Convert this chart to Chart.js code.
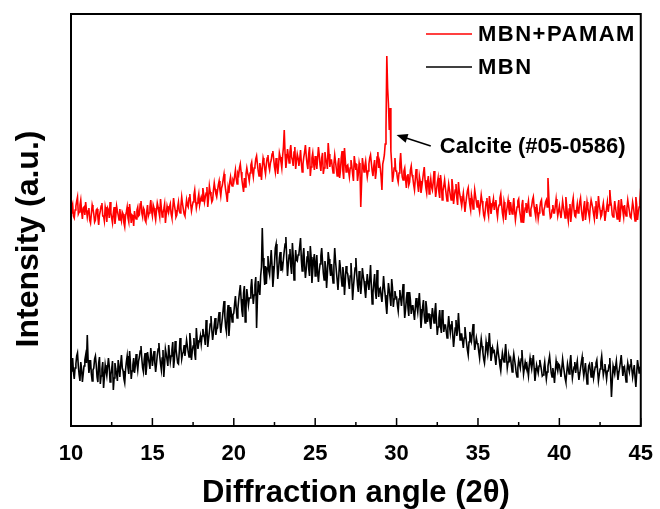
<!DOCTYPE html>
<html>
<head>
<meta charset="utf-8">
<script src="https://cdn.jsdelivr.net/npm/chart.js@4.4.1/dist/chart.umd.min.js"></script>
<style>
  body { margin: 0; background: #fff; }
  #wrap { width: 660px; height: 509px; }
</style>
</head>
<body>
<div id="wrap"><canvas id="xrd" width="660" height="509"></canvas></div>
<script>
// sampling of the scan: 10.00 to 45.00 deg, one point every 0.05 deg
const angleStart = 10;
const angleStep = 0.05;

const seriesNames = ['MBN+PAMAM', 'MBN'];
const seriesColors = ['#ff0000', '#000000'];
const xTicks = [10, 15, 20, 25, 30, 35, 40, 45];

// intensities (a.u.), one row per degree
const mbnPamam = [
  213, 219, 222, 210, 208, 216, 220, 225, 229, 212, 214, 221, 226, 215, 207, 218, 219, 211, 224, 216,
  209, 215, 218, 206, 203, 212, 221, 217, 212, 204, 206, 216, 217, 209, 201, 211, 215, 220, 223, 210,
  210, 205, 219, 214, 204, 218, 216, 208, 224, 213, 208, 203, 213, 219, 202, 210, 220, 215, 211, 206,
  217, 209, 205, 214, 212, 203, 199, 210, 214, 219, 208, 204, 222, 213, 203, 211, 210, 200, 215, 209,
  207, 216, 219, 210, 211, 222, 225, 213, 209, 218, 216, 206, 204, 214, 221, 210, 213, 219, 226, 215,
  210, 221, 218, 211, 206, 215, 223, 219, 214, 209, 227, 218, 209, 213, 217, 222, 203, 212, 220, 216,
  214, 219, 222, 212, 208, 217, 228, 221, 216, 209, 211, 219, 224, 215, 213, 220, 229, 222, 217, 212,
  210, 218, 226, 221, 219, 228, 232, 222, 215, 220, 224, 231, 236, 226, 218, 223, 227, 232, 221, 226,
  229, 225, 238, 232, 224, 229, 233, 239, 219, 228, 240, 234, 230, 224, 226, 236, 243, 237, 232, 229,
  235, 241, 245, 236, 230, 238, 241, 247, 252, 243, 236, 231, 224, 238, 233, 244, 249, 242, 240, 246,
  244, 250, 256, 247, 242, 253, 251, 258, 262, 254, 246, 240, 234, 248, 239, 252, 258, 253, 250, 245,
  253, 261, 264, 255, 249, 258, 260, 267, 270, 262, 255, 250, 263, 257, 246, 259, 268, 264, 257, 252,
  262, 268, 271, 260, 256, 263, 266, 272, 275, 267, 259, 254, 268, 262, 252, 261, 273, 269, 264, 258,
  270, 279, 296, 272, 258, 266, 277, 270, 263, 274, 281, 269, 266, 260, 274, 279, 257, 265, 272, 268,
  260, 267, 276, 263, 254, 262, 269, 274, 281, 270, 262, 257, 272, 279, 250, 259, 268, 273, 263, 256,
  270, 264, 257, 268, 279, 271, 261, 255, 268, 273, 252, 258, 274, 267, 264, 257, 283, 272, 259, 266,
  266, 259, 253, 262, 271, 264, 257, 250, 262, 268, 248, 255, 268, 275, 255, 247, 278, 266, 254, 260,
  261, 255, 249, 258, 266, 260, 252, 245, 270, 263, 256, 262, 245, 252, 263, 258, 219, 243, 268, 261,
  254, 260, 265, 256, 249, 255, 262, 268, 271, 263, 255, 250, 260, 266, 247, 254, 269, 274, 258, 264,
  258, 249, 236, 262, 266, 271, 282, 298, 370, 338, 322, 296, 318, 275, 262, 244, 250, 258, 268, 255,
  255, 248, 244, 253, 262, 273, 258, 249, 246, 255, 258, 247, 238, 250, 252, 241, 244, 256, 260, 251,
  248, 241, 236, 247, 257, 249, 241, 234, 250, 245, 233, 239, 246, 253, 259, 246, 238, 233, 244, 250,
  232, 240, 247, 239, 236, 244, 255, 241, 229, 236, 243, 248, 234, 228, 251, 243, 226, 235, 240, 246,
  238, 231, 225, 234, 242, 236, 231, 226, 247, 239, 222, 230, 236, 242, 228, 221, 244, 235, 230, 225,
  220, 227, 233, 224, 214, 222, 229, 235, 238, 228, 221, 216, 231, 226, 217, 224, 236, 230, 224, 219,
  226, 219, 214, 223, 231, 225, 219, 211, 208, 216, 224, 228, 215, 210, 230, 223, 212, 218, 222, 227,
  216, 223, 226, 215, 209, 218, 221, 228, 232, 222, 213, 208, 224, 219, 206, 214, 220, 226, 217, 211,
  224, 217, 212, 220, 228, 215, 206, 213, 219, 225, 227, 216, 211, 204, 221, 226, 203, 212, 218, 223,
  213, 220, 225, 214, 210, 217, 220, 226, 229, 219, 214, 209, 222, 216, 207, 213, 218, 224, 226, 215,
  211, 216, 219, 224, 226, 219, 248, 230, 215, 208, 209, 216, 221, 213, 213, 220, 227, 218, 210, 215,
  220, 213, 208, 216, 225, 219, 214, 208, 229, 220, 211, 205, 217, 222, 204, 213, 223, 228, 216, 210,
  209, 216, 222, 213, 215, 224, 228, 217, 210, 205, 219, 225, 206, 213, 224, 218, 213, 208, 220, 226,
  226, 218, 212, 207, 219, 225, 207, 214, 230, 221, 216, 209, 211, 218, 223, 215, 205, 212, 218, 224,
  214, 221, 236, 225, 220, 211, 209, 215, 225, 218, 213, 207, 219, 226, 204, 211, 227, 220, 215, 209,
  221, 214, 210, 218, 226, 220, 215, 209, 208, 216, 224, 219, 212, 205, 229, 221, 206, 214, 219, 226,
  238
];

const mbn = [
  55, 62, 68, 54, 47, 58, 62, 70, 73, 60, 51, 45, 64, 57, 44, 52, 60, 66, 71, 63,
  91, 66, 53, 60, 66, 52, 45, 56, 58, 67, 70, 61, 49, 44, 63, 69, 42, 50, 57, 64,
  38, 49, 61, 55, 50, 59, 68, 60, 44, 51, 57, 65, 36, 48, 63, 57, 52, 45, 66, 58,
  49, 62, 71, 58, 55, 47, 43, 56, 64, 70, 58, 52, 75, 63, 47, 55, 61, 68, 53, 60,
  72, 63, 56, 65, 69, 75, 80, 67, 58, 54, 67, 73, 51, 60, 74, 68, 63, 57, 78, 70,
  60, 68, 75, 63, 54, 62, 71, 77, 83, 70, 62, 56, 68, 76, 49, 61, 77, 72, 66, 60,
  81, 72, 64, 70, 76, 84, 58, 66, 85, 77, 70, 63, 62, 74, 88, 79, 67, 72, 74, 81,
  70, 78, 86, 80, 74, 69, 93, 84, 66, 75, 80, 88, 72, 66, 98, 86, 77, 83, 85, 90,
  82, 90, 97, 92, 88, 81, 106, 98, 79, 87, 94, 102, 110, 96, 86, 93, 101, 108, 91, 97,
  98, 107, 114, 103, 93, 101, 108, 117, 125, 110, 99, 94, 112, 121, 90, 102, 119, 113, 104, 111,
  113, 122, 130, 118, 108, 117, 126, 134, 141, 127, 115, 109, 133, 140, 104, 118, 137, 129, 121, 128,
  128, 138, 147, 133, 122, 131, 141, 149, 98, 126, 145, 137, 131, 150, 159, 198, 168, 152, 141, 160,
  142, 158, 170, 155, 151, 164, 176, 160, 139, 150, 162, 178, 182, 165, 147, 156, 168, 174, 155, 162,
  158, 167, 175, 182, 189, 168, 150, 162, 171, 177, 160, 152, 183, 170, 146, 158, 176, 166, 165, 171,
  172, 180, 188, 166, 155, 170, 178, 160, 148, 157, 169, 175, 158, 150, 180, 169, 143, 155, 166, 172,
  150, 162, 171, 153, 144, 155, 162, 170, 178, 165, 153, 146, 165, 158, 138, 152, 174, 167, 157, 150,
  162, 152, 143, 160, 178, 165, 155, 146, 136, 150, 166, 158, 148, 140, 159, 151, 131, 145, 160, 154,
  152, 144, 137, 150, 163, 147, 126, 139, 149, 158, 168, 152, 141, 134, 155, 146, 132, 142, 158, 150,
  145, 136, 128, 141, 152, 143, 136, 147, 161, 140, 122, 133, 143, 152, 134, 127, 156, 142, 129, 137,
  138, 130, 124, 136, 150, 139, 131, 121, 112, 128, 143, 136, 128, 120, 147, 138, 119, 127, 135, 129,
  129, 121, 115, 127, 136, 128, 120, 131, 142, 125, 108, 116, 127, 134, 118, 110, 134, 126, 112, 120,
  121, 113, 106, 118, 128, 120, 114, 124, 133, 117, 98, 109, 119, 126, 110, 103, 125, 118, 104, 112,
  112, 104, 97, 108, 118, 111, 103, 114, 123, 106, 91, 99, 108, 116, 100, 93, 116, 109, 94, 101,
  101, 95, 88, 99, 110, 100, 93, 101, 105, 91, 79, 88, 98, 106, 90, 96, 113, 99, 86, 92,
  92, 85, 78, 88, 99, 90, 83, 76, 71, 84, 94, 89, 85, 93, 102, 89, 76, 82, 88, 83,
  81, 74, 68, 79, 87, 80, 74, 67, 63, 72, 84, 78, 72, 81, 93, 79, 65, 71, 78, 74,
  75, 68, 61, 72, 80, 73, 67, 60, 55, 65, 73, 68, 64, 72, 82, 70, 58, 64, 70, 66,
  68, 61, 54, 65, 72, 66, 60, 53, 49, 58, 66, 62, 58, 67, 76, 63, 52, 58, 64, 60,
  62, 56, 50, 61, 68, 62, 57, 64, 71, 58, 45, 53, 61, 57, 53, 60, 66, 61, 56, 50,
  51, 58, 64, 55, 47, 54, 60, 65, 70, 61, 53, 49, 58, 52, 43, 55, 65, 59, 55, 62,
  61, 55, 49, 58, 67, 60, 54, 48, 44, 53, 62, 57, 52, 63, 71, 58, 48, 54, 59, 64,
  53, 60, 65, 54, 46, 52, 58, 64, 69, 57, 50, 56, 63, 52, 42, 51, 60, 62, 56, 49,
  64, 56, 48, 54, 59, 63, 66, 55, 45, 51, 57, 64, 70, 60, 51, 56, 62, 54, 47, 55,
  55, 61, 68, 50, 29, 45, 60, 56, 52, 59, 65, 55, 46, 53, 58, 64, 71, 60, 50, 57,
  59, 51, 44, 55, 63, 58, 54, 61, 67, 57, 49, 55, 61, 48, 39, 53, 66, 60, 53, 58,
  60
];

const toPoints = arr => arr.map((v, i) => ({ x: +(angleStart + i * angleStep).toFixed(2), y: v }));

// where the calcite note sits, in data units
const calciteTip = { x: 30.0, y: 291 };
const calciteTail = { x: 32.1, y: 280 };
const calciteText = 'Calcite (#05-0586)';

const FONT = "'Liberation Sans', Arial, sans-serif";
Chart.defaults.font.family = FONT;
Chart.defaults.color = '#000';

const framePlugin = {
  id: 'framePlugin',
  afterDraw(chart) {
    const { ctx, chartArea: a, scales: { x, y } } = chart;
    ctx.save();
    ctx.strokeStyle = '#000';
    ctx.lineWidth = 2;
    ctx.strokeRect(a.left, a.top, a.right - a.left, a.bottom - a.top);

    // inward ticks, major + minor
    ctx.lineWidth = 1.5;
    ctx.beginPath();
    x.ticks.forEach((t, i) => {
      const px = x.getPixelForValue(t.value);
      ctx.moveTo(px, a.bottom);
      ctx.lineTo(px, a.bottom - 8);
      if (i < x.ticks.length - 1) {
        const mx = x.getPixelForValue(t.value + 2.5);
        ctx.moveTo(mx, a.bottom);
        ctx.lineTo(mx, a.bottom - 4);
      }
    });
    ctx.stroke();

    // legend inside the plot
    ctx.font = 'bold 22px ' + FONT;
    ctx.textBaseline = 'middle';
    ctx.textAlign = 'left';
    ctx.letterSpacing = '1.5px';
    chart.data.datasets.forEach((ds, i) => {
      const ly = 34 + i * 33;
      ctx.strokeStyle = ds.borderColor;
      ctx.lineWidth = 1.5;
      ctx.beginPath();
      ctx.moveTo(426, ly);
      ctx.lineTo(472, ly);
      ctx.stroke();
      ctx.fillStyle = '#000';
      ctx.fillText(ds.label, 478, ly + 1);
    });
    ctx.letterSpacing = '0px';

    // calcite arrow + label
    const tx = x.getPixelForValue(calciteTip.x), ty = y.getPixelForValue(calciteTip.y);
    const sx = x.getPixelForValue(calciteTail.x), sy = y.getPixelForValue(calciteTail.y);
    const ang = Math.atan2(ty - sy, tx - sx);
    ctx.strokeStyle = '#000';
    ctx.fillStyle = '#000';
    ctx.lineWidth = 1.5;
    ctx.beginPath();
    ctx.moveTo(sx, sy);
    ctx.lineTo(tx - 6 * Math.cos(ang), ty - 6 * Math.sin(ang));
    ctx.stroke();
    ctx.beginPath();
    ctx.moveTo(tx, ty);
    ctx.lineTo(tx - 11 * Math.cos(ang) + 4.5 * Math.sin(ang), ty - 11 * Math.sin(ang) - 4.5 * Math.cos(ang));
    ctx.lineTo(tx - 11 * Math.cos(ang) - 4.5 * Math.sin(ang), ty - 11 * Math.sin(ang) + 4.5 * Math.cos(ang));
    ctx.closePath();
    ctx.fill();
    ctx.font = 'bold 22px ' + FONT;
    ctx.fillText(calciteText, sx + 9, sy + 1);

    // y title
    ctx.translate(29, 239);
    ctx.rotate(-Math.PI / 2);
    ctx.textAlign = 'center';
    ctx.font = 'bold 32px ' + FONT;
    ctx.fillText('Intensity (a.u.)', 0, 0);
    ctx.restore();
  }
};

new Chart(document.getElementById('xrd'), {
  type: 'line',
  data: {
    datasets: [mbnPamam, mbn].map((arr, i) => ({
      label: seriesNames[i],
      data: toPoints(arr),
      borderColor: seriesColors[i],
      borderWidth: 1.6,
      pointRadius: 0,
      tension: 0,
      fill: false
    }))
  },
  options: {
    responsive: false,
    animation: false,
    layout: { padding: { left: 0, right: 14, top: 14, bottom: 0 } },
    plugins: { legend: { display: false }, tooltip: { enabled: false } },
    scales: {
      x: {
        type: 'linear',
        min: 10,
        max: 45,
        afterBuildTicks: s => { s.ticks = xTicks.map(v => ({ value: v })); },
        afterFit: s => { s.height = 83; },
        grid: { display: false },
        border: { display: false },
        ticks: { padding: 7, font: { size: 22, weight: 'bold' }, maxRotation: 0, callback: v => v },
        title: {
          display: true,
          text: 'Diffraction angle (2θ)',
          font: { size: 31, weight: 'bold', lineHeight: 1 },
          padding: { top: 0, bottom: 0 }
        }
      },
      y: {
        min: 0,
        max: 412,
        afterFit: s => { s.width = 71; },
        grid: { display: false },
        border: { display: false },
        ticks: { display: false }
      }
    }
  },
  plugins: [framePlugin]
});
</script>
</body>
</html>
